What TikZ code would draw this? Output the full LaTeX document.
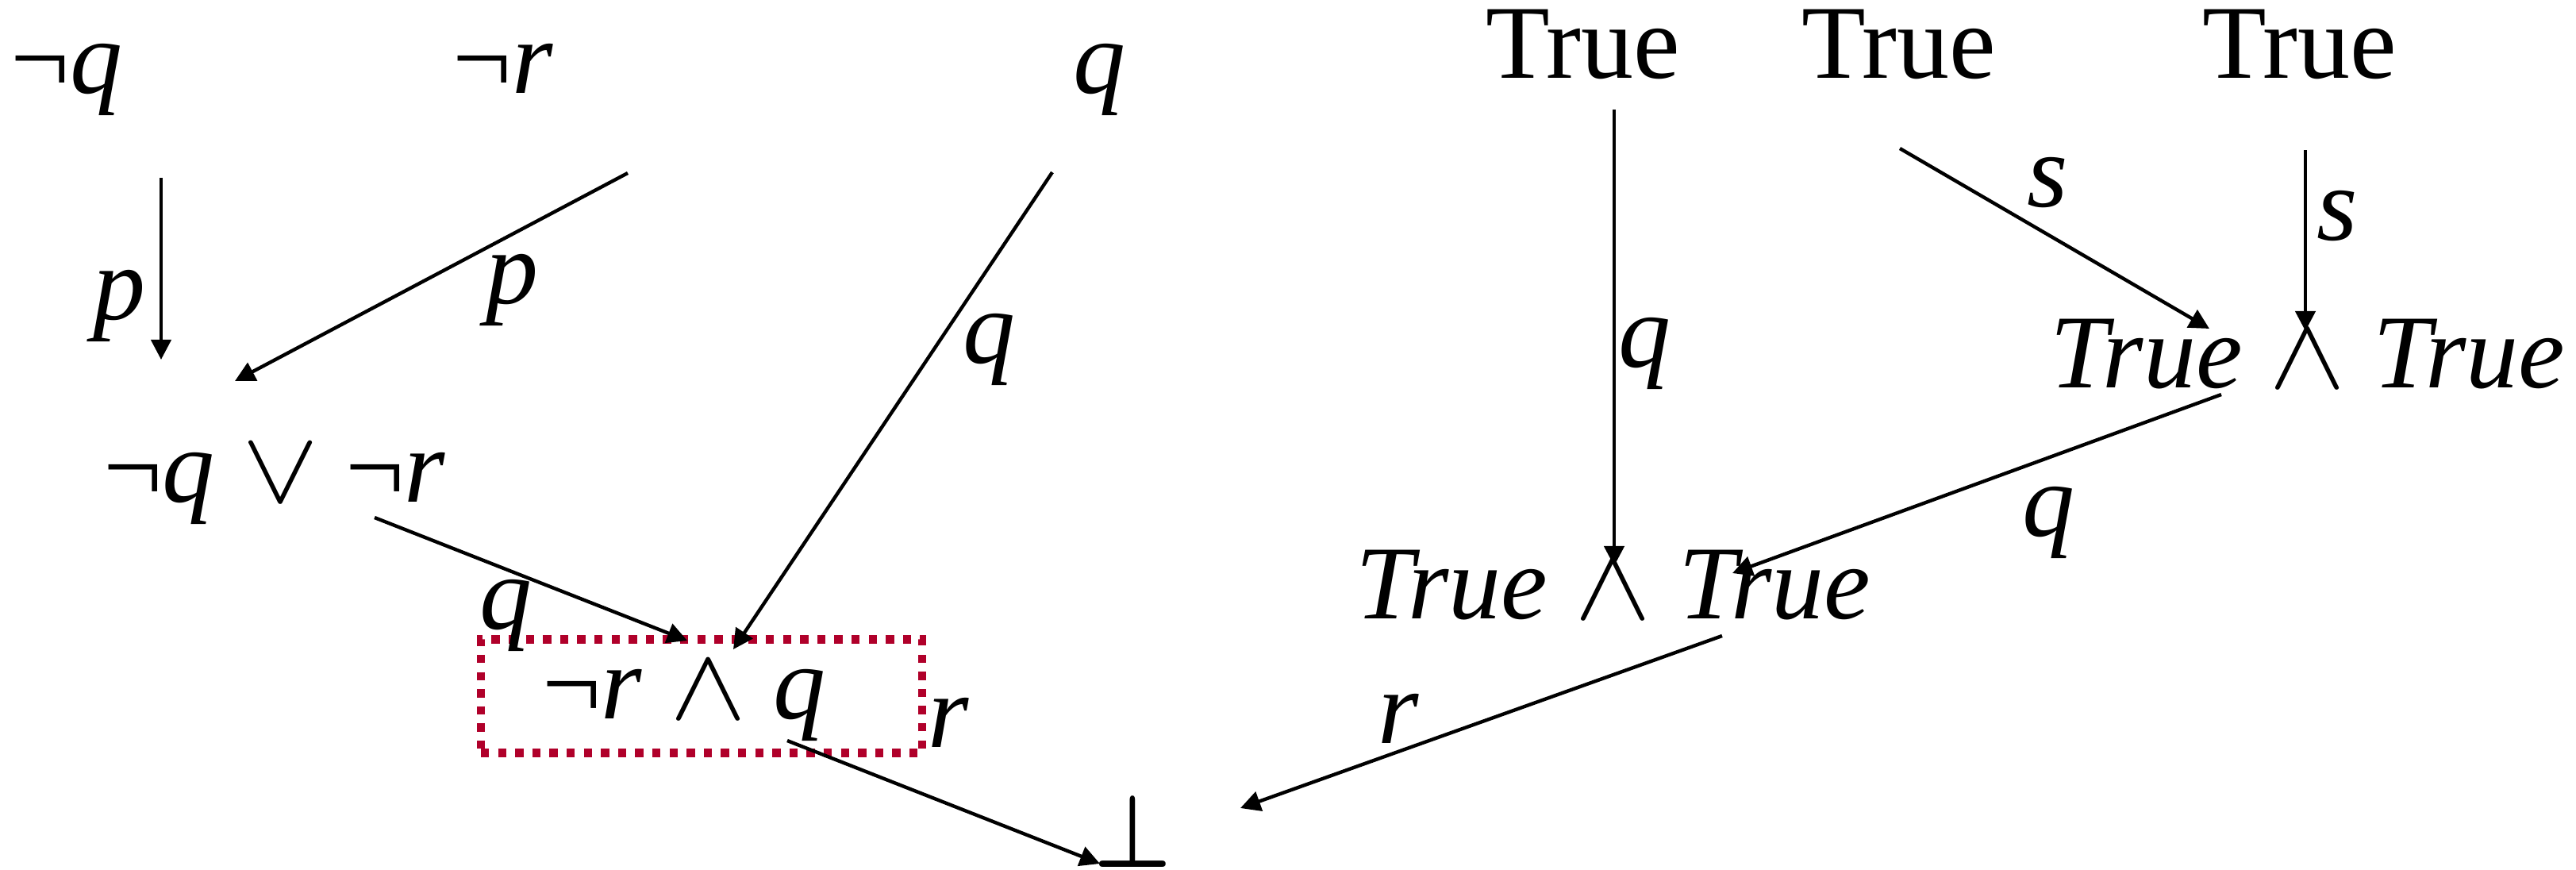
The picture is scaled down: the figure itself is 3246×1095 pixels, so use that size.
\documentclass[tikz,border=0pt]{standalone}
\usepackage{fontspec}
\usepackage{graphicx}
\setmainfont{Liberation Serif}
\usetikzlibrary{arrows.meta}
\definecolor{boxred}{HTML}{B0002A}
\newcommand{\LAnd}{\hspace{0.26em}\scalebox{1.45}[1.3]{$\wedge$}\hspace{0.26em}}
\newcommand{\LOr}{\hspace{0.26em}\scalebox{1.45}[1.3]{$\vee$}\hspace{0.26em}}
\begin{document}
\begin{tikzpicture}[x=0.25pt,y=-0.25pt,
  lbl/.style={font=\fontsize{33}{40}\selectfont, inner sep=0pt, anchor=base},
  elab/.style={font=\fontsize{33}{40}\selectfont\itshape, inner sep=0pt},
  conn/.style={line width=1.1pt, -{Triangle[length=6.3pt,width=6.3pt]}},
  redbox/.style={draw=boxred, line width=2.6pt, dash pattern=on 2.6pt off 2.8pt,
    minimum width=139pt, minimum height=35.75pt, inner sep=0pt}
]
\useasboundingbox (0,0) rectangle (3246,1095);
% nodes
\node[lbl] (nq) at (84,117) {¬\textit{q}};
\node[lbl] (nr) at (634,117) {¬\textit{r}};
\node[lbl] (q) at (1385,117) {\textit{q}};
\node[lbl] (t1) at (1995,98) {True};
\node[lbl] (t2) at (2393,98) {True};
\node[lbl] (t3) at (2898,98) {True};
\node[lbl] (or) at (346,632) {¬\textit{q}\LOr¬\textit{r}};
\node[lbl] (tt1) at (2908,488) {\textit{True}\LAnd\textit{True}};
\node[lbl] (tt2) at (2033,779) {\textit{True}\LAnd\textit{True}};
\node[lbl] (andn) at (862,905) {¬\textit{r}\LAnd\textit{q}};
\node[lbl, font=\fontsize{33}{40}\selectfont\boldmath] (bot) at (1427,1092) {\scalebox{1.1}[1.3]{$\bot$}};
\node[redbox] (box) at (884,877) {};
% connector end points
\coordinate (a1) at (203,224);  \coordinate (b1) at (203,453);
\coordinate (a2) at (791,218);  \coordinate (b2) at (296,480);
\coordinate (a3) at (1326,217); \coordinate (b3) at (924,818);
\coordinate (a4) at (472,652);  \coordinate (b4) at (866,807);
\coordinate (a5) at (992,933);  \coordinate (b5) at (1386,1088);
\coordinate (a6) at (2034,138); \coordinate (b6) at (2034,713);
\coordinate (a7) at (2394,187); \coordinate (b7) at (2784,414);
\coordinate (a8) at (2905,189); \coordinate (b8) at (2905,417);
\coordinate (a9) at (2799,497); \coordinate (b9) at (2183,722);
\coordinate (a10) at (2170,801); \coordinate (b10) at (1563,1018);
% connectors
\draw[conn] (a1) -- (b1);
\draw[conn] (a2) -- (b2);
\draw[conn] (a3) -- (b3);
\draw[conn] (a4) -- (b4);
\draw[conn] (a5) -- (b5);
\draw[conn] (a6) -- (b6);
\draw[conn] (a7) -- (b7);
\draw[conn] (a8) -- (b8);
\draw[conn] (a9) -- (b9);
\draw[conn] (a10) -- (b10);
% connector labels
\node[elab] (l1) at (150,385) {p};
\node[elab] (l2) at (645,365) {p};
\node[elab] (l3) at (1246,440) {q};
\node[elab] (l4) at (637,775) {q};
\node[elab] (l5) at (1195,910) {r};
\node[elab] (l6) at (2072,445) {q};
\node[elab] (l7) at (2580,230) {s};
\node[elab] (l8) at (2945,272) {s};
\node[elab] (l9) at (2581,658) {q};
\node[elab] (l10) at (1762,905) {r};
\end{tikzpicture}
\end{document}
